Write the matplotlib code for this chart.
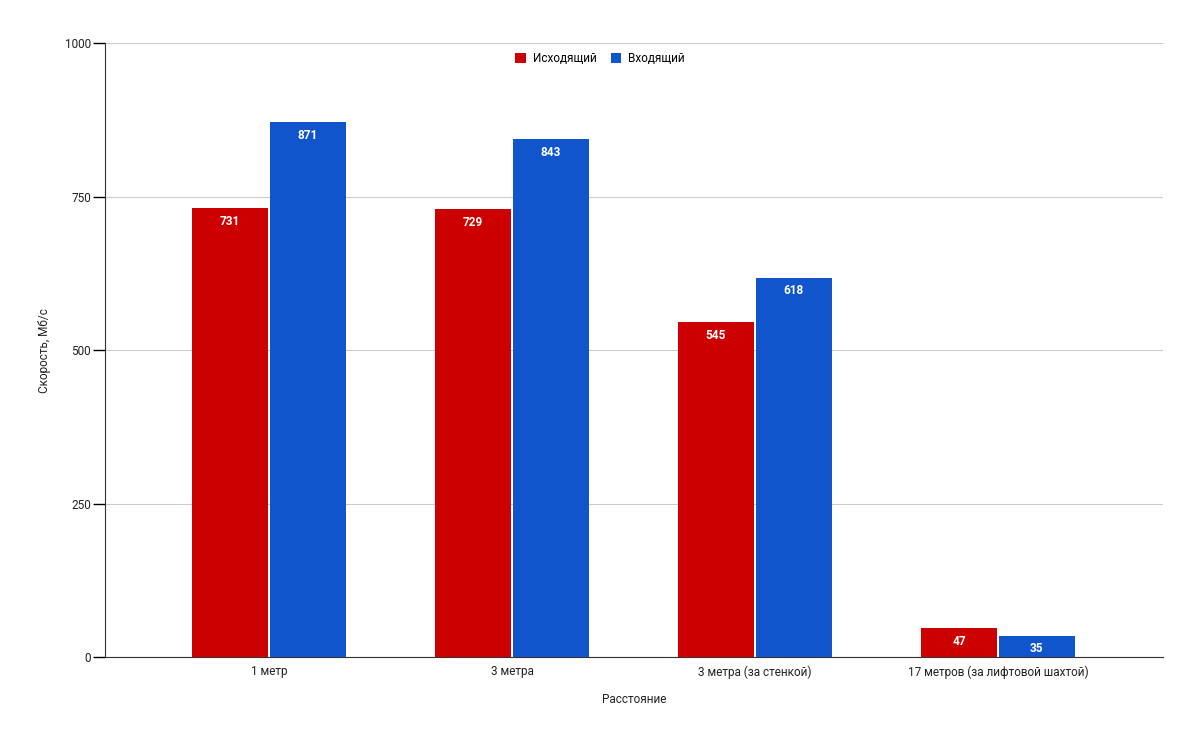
import matplotlib

matplotlib.use("Agg")
import matplotlib.pyplot as plt
import numpy as np

plt.rcParams["font.family"] = ["Roboto", "DejaVu Sans"]

categories = ["1 метр", "3 метра", "3 метра (за стенкой)", "17 метров (за лифтовой шахтой)"]
outgoing = [731, 729, 545, 47]
incoming = [871, 843, 618, 35]
series_names = ["Исходящий", "Входящий"]
colors = ["#cc0000", "#1155cc"]
y_ticks = [0, 250, 500, 750, 1000]


def main():
    fig = plt.figure(figsize=(12, 7.43), dpi=100)
    ax = fig.add_axes([0.0875, 0.1157, 0.8817, 0.8263])

    x = np.arange(len(categories))
    width = 0.313
    offset = 0.16
    for vals, name, color, dx in zip(
        [outgoing, incoming], series_names, colors, [-offset, offset]
    ):
        bars = ax.bar(x + dx, vals, width=width, color=color, label=name, zorder=3)
        for bar, v in zip(bars, vals):
            ax.text(
                bar.get_x() + bar.get_width() / 2,
                v - 11,
                str(v),
                ha="center",
                va="top",
                color="white",
                fontsize=8.5,
                fontweight="bold",
                zorder=4,
            )

    ax.set_xlim(-0.675, 3.68)
    ax.set_ylim(0, 1000)
    ax.set_yticks(y_ticks)
    ax.set_xticks(x)
    ax.set_xticklabels(categories)
    ax.tick_params(axis="x", length=0, pad=6, labelsize=8.5, colors="#222222")
    ax.tick_params(axis="y", length=9, width=1, direction="out", pad=1,
                   labelsize=8.5, labelcolor="#222222")
    ax.grid(axis="y", color="#cccccc", linewidth=0.8, zorder=0)
    for side in ["top", "right"]:
        ax.spines[side].set_visible(False)
    ax.spines["left"].set_color("#333333")
    ax.spines["bottom"].set_color("#333333")

    ax.set_xlabel("Расстояние", fontsize=8.5, labelpad=10, color="#222222")
    ax.set_ylabel("Скорость, Мб/с", fontsize=8.5, labelpad=10, color="#222222")

    handles, labels = ax.get_legend_handles_labels()
    fig.legend(
        handles,
        labels,
        loc="upper center",
        bbox_to_anchor=(0.5, 0.944),
        ncol=2,
        frameon=False,
        fontsize=8.5,
        handlelength=0.9,
        handleheight=0.9,
        columnspacing=1.2,
        handletextpad=0.6,
    )

    fig.savefig("out.png", dpi=100)
    plt.close(fig)


if __name__ == "__main__":
    main()
